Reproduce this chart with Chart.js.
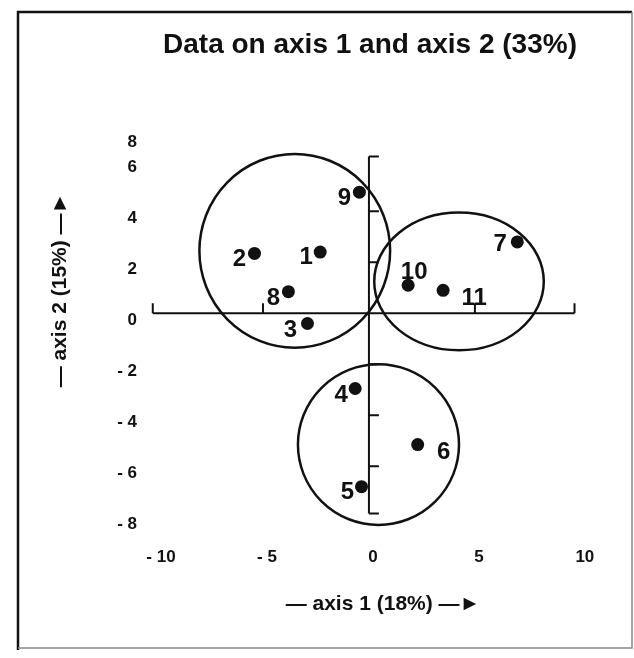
<!DOCTYPE html>
<html>
<head>
<meta charset="utf-8">
<title>Data on axis 1 and axis 2 (33%)</title>
<script src="https://cdn.jsdelivr.net/npm/chart.js@4.4.1/dist/chart.umd.min.js"></script>
<style>
  html, body { margin: 0; padding: 0; background: #fff; }
</style>
</head>
<body>
<canvas id="axesChart" width="634" height="658"></canvas>
<script>
//-------------
//- DATA -
//-------------
var pointLabels = ['1', '2', '3', '4', '5', '6', '7', '8', '9', '10', '11'];
var axis1Values = [-2.3, -5.4, -2.9, -0.65, -0.35, 2.3, 7.0, -3.8, -0.45, 1.85, 3.5];
var axis2Values = [2.4, 2.35, -0.4, -2.95, -6.8, -5.15, 2.8, 0.85, 4.75, 1.1, 0.9];

var xTickValues = [-10, -5, 0, 5, 10];
var xTickLabels = ['- 10', '- 5', '0', '5', '10'];
var yTickValues = [-8, -6, -4, -2, 0, 2, 4, 6, 7]; // the "8" sits one unit low in the original
var yTickLabels = ['- 8', '- 6', '- 4', '- 2', '0', '2', '4', '6', '8'];

// circled groups: centre and radii in axis units
var groupCentreX = [-3.5, 4.25, 0.45];
var groupCentreY = [2.45, 1.25, -5.15];
var groupRadiusX = [4.5, 4.0, 3.8];
var groupRadiusY = [3.8, 2.7, 3.15];

// the cross drawn through the origin
var hAxisFrom = -10.2, hAxisTo = 9.7;
var hAxisTicks = [-10.2, -5, 5, 9.7];
var vAxisFrom = -7.85, vAxisTo = 6.15;
var vAxisTicks = [-7.85, -6, -4, -2, 2, 4, 6.15];

var chartTitle = 'Data on axis 1 and axis 2 (33%)';
var xTitle = '\u2014 axis 1 (18%) \u2014\u25BA';
var yTitle = '\u2014 axis 2 (15%) \u2014\u25BA';

var fontFamily = "'Liberation Sans', Arial, sans-serif";
var ink = '#111';

//-------------
//- PLUGIN: frame, origin cross, circles, point numbers, axis titles -
//-------------
var labelShift = {
    '1': [-14, 5], '2': [-15, 6], '3': [-17, 7], '4': [-14, 7], '5': [-14, 6],
    '6': [26, 8], '7': [-17, 2], '8': [-15, 7], '9': [-15, 6], '10': [6, -13], '11': [31, 8]
};

var figurePlugin = {
    id: 'figurePlugin',
    beforeDraw: function(chart) {
        var ctx = chart.ctx;
        ctx.save();
        ctx.fillStyle = '#fff';
        ctx.fillRect(0, 0, chart.width, chart.height);
        // frame
        ctx.strokeStyle = ink;
        ctx.lineWidth = 2.5;
        ctx.beginPath();
        ctx.moveTo(18, 650);
        ctx.lineTo(18, 12);
        ctx.lineTo(632, 12);
        ctx.stroke();
        ctx.strokeStyle = '#888';
        ctx.lineWidth = 1.5;
        ctx.beginPath();
        ctx.moveTo(632, 12);
        ctx.lineTo(632, 648);
        ctx.lineTo(18, 648);
        ctx.stroke();
        ctx.restore();
    },
    beforeDatasetsDraw: function(chart) {
        var ctx = chart.ctx, xs = chart.scales.x, ys = chart.scales.y;
        var x0 = xs.getPixelForValue(0), y0 = ys.getPixelForValue(0);
        ctx.save();
        ctx.strokeStyle = ink;
        ctx.lineWidth = 2;
        ctx.beginPath();
        ctx.moveTo(xs.getPixelForValue(hAxisFrom), y0);
        ctx.lineTo(xs.getPixelForValue(hAxisTo), y0);
        hAxisTicks.forEach(function(v) {
            var px = xs.getPixelForValue(v);
            ctx.moveTo(px, y0);
            ctx.lineTo(px, y0 - 10);
        });
        ctx.moveTo(x0, ys.getPixelForValue(vAxisFrom));
        ctx.lineTo(x0, ys.getPixelForValue(vAxisTo));
        vAxisTicks.forEach(function(v) {
            var py = ys.getPixelForValue(v);
            ctx.moveTo(x0, py);
            ctx.lineTo(x0 + 10, py);
        });
        ctx.stroke();

        ctx.lineWidth = 2.5;
        for (var i = 0; i < groupCentreX.length; i++) {
            var cx = xs.getPixelForValue(groupCentreX[i]);
            var cy = ys.getPixelForValue(groupCentreY[i]);
            var rx = xs.getPixelForValue(groupCentreX[i] + groupRadiusX[i]) - cx;
            var ry = cy - ys.getPixelForValue(groupCentreY[i] + groupRadiusY[i]);
            ctx.beginPath();
            ctx.ellipse(cx, cy, rx, ry, 0, 0, 2 * Math.PI);
            ctx.stroke();
        }
        ctx.restore();
    },
    afterDatasetsDraw: function(chart) {
        var ctx = chart.ctx;
        var meta = chart.getDatasetMeta(0);
        ctx.save();
        ctx.fillStyle = ink;
        ctx.font = 'bold 24px ' + fontFamily;
        ctx.textAlign = 'center';
        ctx.textBaseline = 'middle';
        meta.data.forEach(function(pt, i) {
            var s = labelShift[pointLabels[i]];
            ctx.fillText(pointLabels[i], pt.x + s[0], pt.y + s[1]);
        });

        // axis titles
        ctx.font = 'bold 21px ' + fontFamily;
        ctx.fillText(xTitle, 383, 604);
        ctx.translate(60, 290);
        ctx.rotate(-Math.PI / 2);
        ctx.fillText(yTitle, 0, 0);
        ctx.restore();
    }
};

//-------------
//- CHART -
//-------------
var axesChartCanvas = document.getElementById('axesChart').getContext('2d');
var axesChartData = {
    datasets: [
        {
            label: 'observations',
            data: axis1Values.map(function(v, i) { return { x: v, y: axis2Values[i] }; }),
            backgroundColor: ink,
            borderColor: ink,
            borderWidth: 0,
            pointRadius: 6.5,
            pointHoverRadius: 6.5
        }
    ]
};

var axesChartOptions = {
    responsive: false,
    animation: false,
    layout: { padding: { left: 106, right: 0, top: 0, bottom: 0 } },
    plugins: {
        legend: { display: false },
        tooltip: { enabled: false },
        title: {
            display: true,
            text: chartTitle,
            color: ink,
            font: { family: fontFamily, size: 28, weight: 'bold' },
            padding: { top: 28, bottom: 35 }
        }
    },
    scales: {
        x: {
            type: 'linear',
            min: -10,
            max: 12.2,
            grid: { display: false, drawTicks: false },
            border: { display: false },
            afterBuildTicks: function(scale) {
                scale.ticks = xTickValues.map(function(v) { return { value: v }; });
            },
            afterFit: function(scale) { scale.height = 128; },
            ticks: {
                autoSkip: false,
                maxRotation: 0,
                padding: 17,
                labelOffset: 4,
                color: ink,
                font: { family: fontFamily, size: 17, weight: 'bold' },
                callback: function(value, index) { return xTickLabels[index]; }
            }
        },
        y: {
            type: 'linear',
            min: -8.5,
            max: 8.5,
            grid: { display: false, drawTicks: false },
            border: { display: false },
            afterBuildTicks: function(scale) {
                scale.ticks = yTickValues.map(function(v) { return { value: v }; });
            },
            afterFit: function(scale) { scale.width = 51; },
            ticks: {
                autoSkip: false,
                padding: 20,
                labelOffset: 7,
                color: ink,
                font: { family: fontFamily, size: 17, weight: 'bold' },
                callback: function(value, index) { return yTickLabels[index]; }
            }
        }
    }
};

var axesChart = new Chart(axesChartCanvas, {
    type: 'scatter',
    data: axesChartData,
    options: axesChartOptions,
    plugins: [figurePlugin]
});
</script>
</body>
</html>
